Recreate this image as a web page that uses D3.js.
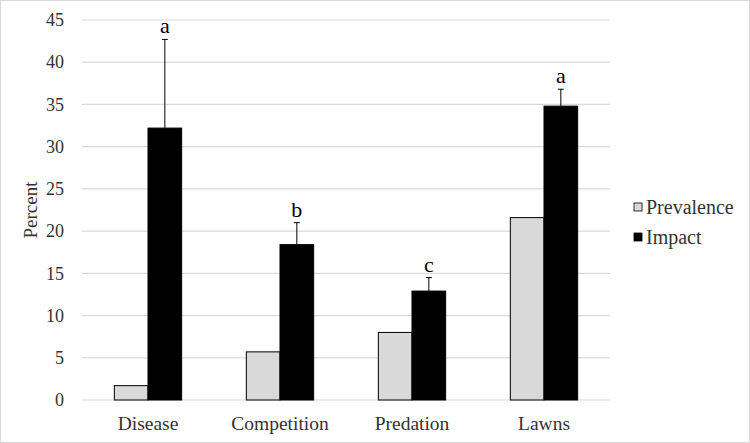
<!DOCTYPE html>
<html><head><meta charset="utf-8">
<script src="https://cdn.jsdelivr.net/npm/d3@7"></script>
<style>body{margin:0;background:#fff}svg{display:block}
svg text{font-family:"Liberation Serif","Times New Roman","DejaVu Serif",serif !important;}</style>
</head><body><svg id="c" width="750" height="443"></svg>
<script>
const categories = ["Disease","Competition","Predation","Lawns"];
const seriesNames = ["Prevalence","Impact"];
const prevalence = [1.7, 5.7, 8.0, 21.6];
const impact = [32.2, 18.4, 12.9, 34.8];
const impactErrTop = [42.7, 21.0, 14.5, 36.8];
const letters = ["a","b","c","a"];
const yTicks = [0,5,10,15,20,25,30,35,40,45];
const colors = {Prevalence:"#d9d9d9", Impact:"#000000"};

const svg = d3.select("#c");
svg.append("rect").attr("x",0.5).attr("y",0.5).attr("width",749).attr("height",442)
  .attr("fill","#fff").attr("stroke","#d9d9d9");

const x0 = d3.scaleBand().domain(categories).range([82,610]).paddingInner(0.49).paddingOuter(0.245);
const x1 = d3.scaleBand().domain(seriesNames).range([0,x0.bandwidth()]);
const y = d3.scaleLinear().domain([0,45]).range([400,20]);

// grid
svg.append("g").selectAll("line").data(yTicks).join("line")
  .attr("x1",82).attr("x2",610).attr("y1",d=>y(d)).attr("y2",d=>y(d))
  .attr("stroke","#d9d9d9").attr("stroke-width",1.2);

// y axis
const ya = svg.append("g").attr("transform","translate(82,0)")
  .call(d3.axisLeft(y).tickValues(yTicks).tickSize(0).tickPadding(18));
ya.select(".domain").remove();
ya.selectAll("text").attr("font-size",18).attr("fill","#333");

// x axis labels
const xa = svg.append("g").attr("transform","translate(0,400)")
  .call(d3.axisBottom(x0).tickSize(0).tickPadding(16));
xa.select(".domain").remove();
xa.selectAll("text").attr("font-size",19.5).attr("fill","#333");

svg.append("text").attr("transform",`translate(37,${y(22.5)}) rotate(-90)`)
  .attr("text-anchor","middle").attr("font-size",19).attr("fill","#333").text("Percent");

const data = categories.map((c,i)=>({c, Prevalence:prevalence[i], Impact:impact[i], err:impactErrTop[i], letter:letters[i]}));

const g = svg.append("g").selectAll("g").data(data).join("g")
  .attr("transform",d=>`translate(${x0(d.c)},0)`);
g.selectAll("rect").data(d=>seriesNames.map(s=>({s, v:d[s]}))).join("rect")
  .attr("x",d=>x1(d.s)).attr("width",x1.bandwidth())
  .attr("y",d=>y(d.v)).attr("height",d=>y(0)-y(d.v))
  .attr("fill",d=>colors[d.s]).attr("stroke","#000").attr("stroke-width",1);

// error bars
const cx = x1("Impact")+x1.bandwidth()/2;
g.append("line").attr("x1",cx).attr("x2",cx).attr("y1",d=>y(d.Impact)).attr("y2",d=>y(d.err))
  .attr("stroke","#000").attr("stroke-width",1);
g.append("line").attr("x1",cx-3).attr("x2",cx+3).attr("y1",d=>y(d.err)).attr("y2",d=>y(d.err))
  .attr("stroke","#000").attr("stroke-width",1);
g.append("text").attr("x",cx).attr("y",d=>y(d.err)-6).attr("text-anchor","middle")
  .attr("font-size",22).attr("fill","#000").text(d=>d.letter);

// legend
const lg = svg.append("g").selectAll("g").data(seriesNames).join("g")
  .attr("transform",(d,i)=>`translate(634,${208+i*30})`);
lg.append("rect").attr("x",0).attr("y",-5).attr("width",8).attr("height",8)
  .attr("fill",d=>colors[d]).attr("stroke","#000").attr("stroke-width",0.8);
lg.append("text").attr("x",12).attr("y",6).attr("font-size",20).attr("fill","#333").text(d=>d);
</script></body></html>
